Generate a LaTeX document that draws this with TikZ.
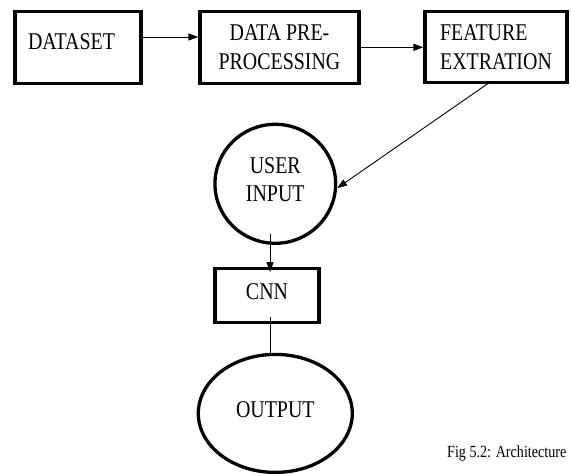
\documentclass[tikz,border=0pt]{standalone}
\usepackage{fontspec}
\setmainfont[FakeStretch=0.83]{Liberation Serif}
\usetikzlibrary{arrows.meta,shapes.geometric}
\begin{document}
\begin{tikzpicture}[x=1pt,y=-1pt,
  labelfont/.style={font=\fontsize{24}{28.5}\selectfont},
  block/.style={draw,line width=3.3pt,rectangle,inner sep=0pt,labelfont},
  blob/.style={draw,line width=3.3pt,ellipse,inner sep=0pt,labelfont},
  flow/.style={line width=0.9pt,-{Triangle[length=10pt,width=7pt]}},
  link/.style={line width=0.9pt}]
\useasboundingbox (0,0) rectangle (571,474);

% top row of processing stages
\node[block,minimum width=126pt,minimum height=72pt,text width=100pt,align=left,
      text height=16pt,text depth=12pt] (dataset) at (78,47.3) {DATASET};
\node[block,minimum width=159pt,minimum height=72pt,align=center]
      (prep) at (279.5,47.3) {DATA PRE-\\PROCESSING};
\node[block,minimum width=142pt,minimum height=71pt,align=left]
      (feat) at (496,47.3) {FEATURE\\EXTRATION};

% vertical chain
\node[blob,minimum width=120.7pt,minimum height=119pt,align=center,
      text depth=8pt] (user) at (275.3,183.8) {USER\\INPUT};
\node[block,minimum width=104pt,minimum height=53.6pt,
      text depth=8pt] (cnn) at (267,295.5) {CNN};
\node[blob,minimum width=154pt,minimum height=118pt,
      text depth=8pt] (output) at (275.3,413.4) {OUTPUT};

\node[anchor=base west,inner sep=0pt,font=\fontsize{17}{20}\selectfont]
      (caption) at (447,457) {Fig 5.2: Architecture};

% connectors
\draw[flow] ([yshift=10.3pt]dataset.east) -- ([yshift=10.3pt]prep.west);
\draw[flow] (prep.east) -- (feat.west);
\draw[flow] ([xshift=-5pt,yshift=3pt]feat.south) -- (user.-4);
\draw[flow] ([xshift=-5.3pt,yshift=11pt]user.south) -- ([xshift=3pt,yshift=-5pt]cnn.north);
\draw[link] ([xshift=3pt,yshift=7pt]cnn.south) -- ([xshift=-5.3pt]output.north);
\end{tikzpicture}
\end{document}
